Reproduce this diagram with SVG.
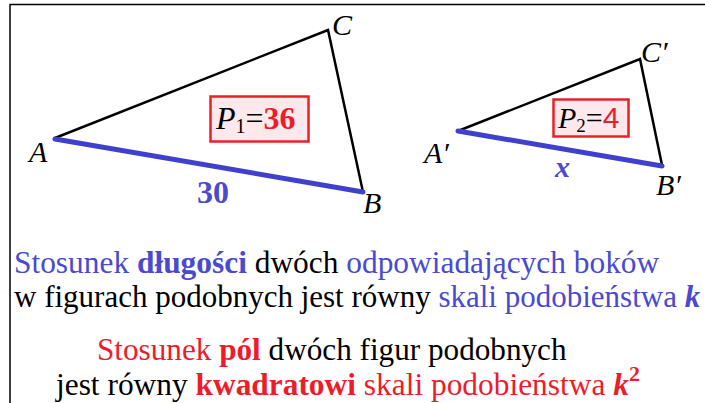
<svg xmlns="http://www.w3.org/2000/svg" width="705" height="403" viewBox="0 0 705 403">
<style>
.i{font-style:italic}
.b{font-weight:bold}
.blue{fill:#4a4ad0}
.red{fill:#ee1c2a}
.blk{fill:#000}
.edge{stroke:#000;stroke-width:2.5;fill:none;stroke-linecap:round}
.base{stroke:#4040cc;stroke-width:5;fill:none;stroke-linecap:round}
.box{fill:#fde9ec;stroke:#e8202a;stroke-width:2.5}
</style>
<rect width="705" height="403" fill="#fff"/>
<g id="frame" stroke="#000" stroke-width="1.5" fill="none">
<path d="M10,403 V4.5 H705"/>
</g>
<g id="connectors">
<path class="edge" d="M55,138 L328,30 L363,192"/>
<path class="base" d="M55,139 L363,192"/>
<path class="edge" d="M458,131 L640,59 L662,165"/>
<path class="base" d="M458,131 L662,166"/>
</g>
<g id="triangle1">
<text font-family="Liberation Serif" font-size="30" class="i" x="29" y="162">A</text>
<text font-family="Liberation Serif" font-size="30" class="i" x="332" y="35">C</text>
<text font-family="Liberation Serif" font-size="30" class="i" x="363" y="213">B</text>
<text font-family="Liberation Serif" font-size="32" class="b blue" x="197" y="203">30</text>
<rect class="box" x="210.5" y="96.5" width="98" height="45"/>
<text font-family="Liberation Serif" font-size="32" x="216" y="129"><tspan class="i">P</tspan><tspan font-size="20" dy="4">1</tspan><tspan dy="-4">=</tspan><tspan class="b red">36</tspan></text>
</g>
<g id="triangle2">
<text font-family="Liberation Serif" font-size="30" class="i" x="424" y="163">A′</text>
<text font-family="Liberation Serif" font-size="30" class="i" x="641" y="62">C′</text>
<text font-family="Liberation Serif" font-size="30" class="i" x="656" y="195">B′</text>
<text font-family="Liberation Serif" font-size="30" class="i b blue" x="555" y="177">x</text>
<rect class="box" x="553.5" y="99.5" width="75" height="37"/>
<text font-family="Liberation Serif" font-size="30" x="558" y="128"><tspan class="i">P</tspan><tspan font-size="19" dy="4">2</tspan><tspan dy="-4">=</tspan><tspan class="red" font-family="Liberation Sans">4</tspan></text>
</g>
<g id="text1">
<text font-family="Liberation Serif" font-size="31.4" class="blue" x="14" y="273">Stosunek <tspan class="b">długości</tspan> <tspan class="blk">dwóch</tspan> odpowiadających boków</text>
<text font-family="Liberation Serif" font-size="31" class="blk" x="14" y="307">w figurach podobnych jest równy <tspan class="blue">skali podobieństwa <tspan class="i b">k</tspan></tspan></text>
</g>
<g id="text2">
<text font-family="Liberation Serif" font-size="31.2" class="red" x="97" y="360">Stosunek <tspan class="b">pól</tspan> <tspan class="blk">dwóch figur podobnych</tspan></text>
<text font-family="Liberation Serif" font-size="31.4" class="blk" x="56" y="395">jest równy <tspan class="b red">kwadratowi</tspan> <tspan class="red">skali podobieństwa <tspan class="i b">k</tspan><tspan class="b" font-size="22" dy="-14">2</tspan></tspan></text>
</g>
</svg>
